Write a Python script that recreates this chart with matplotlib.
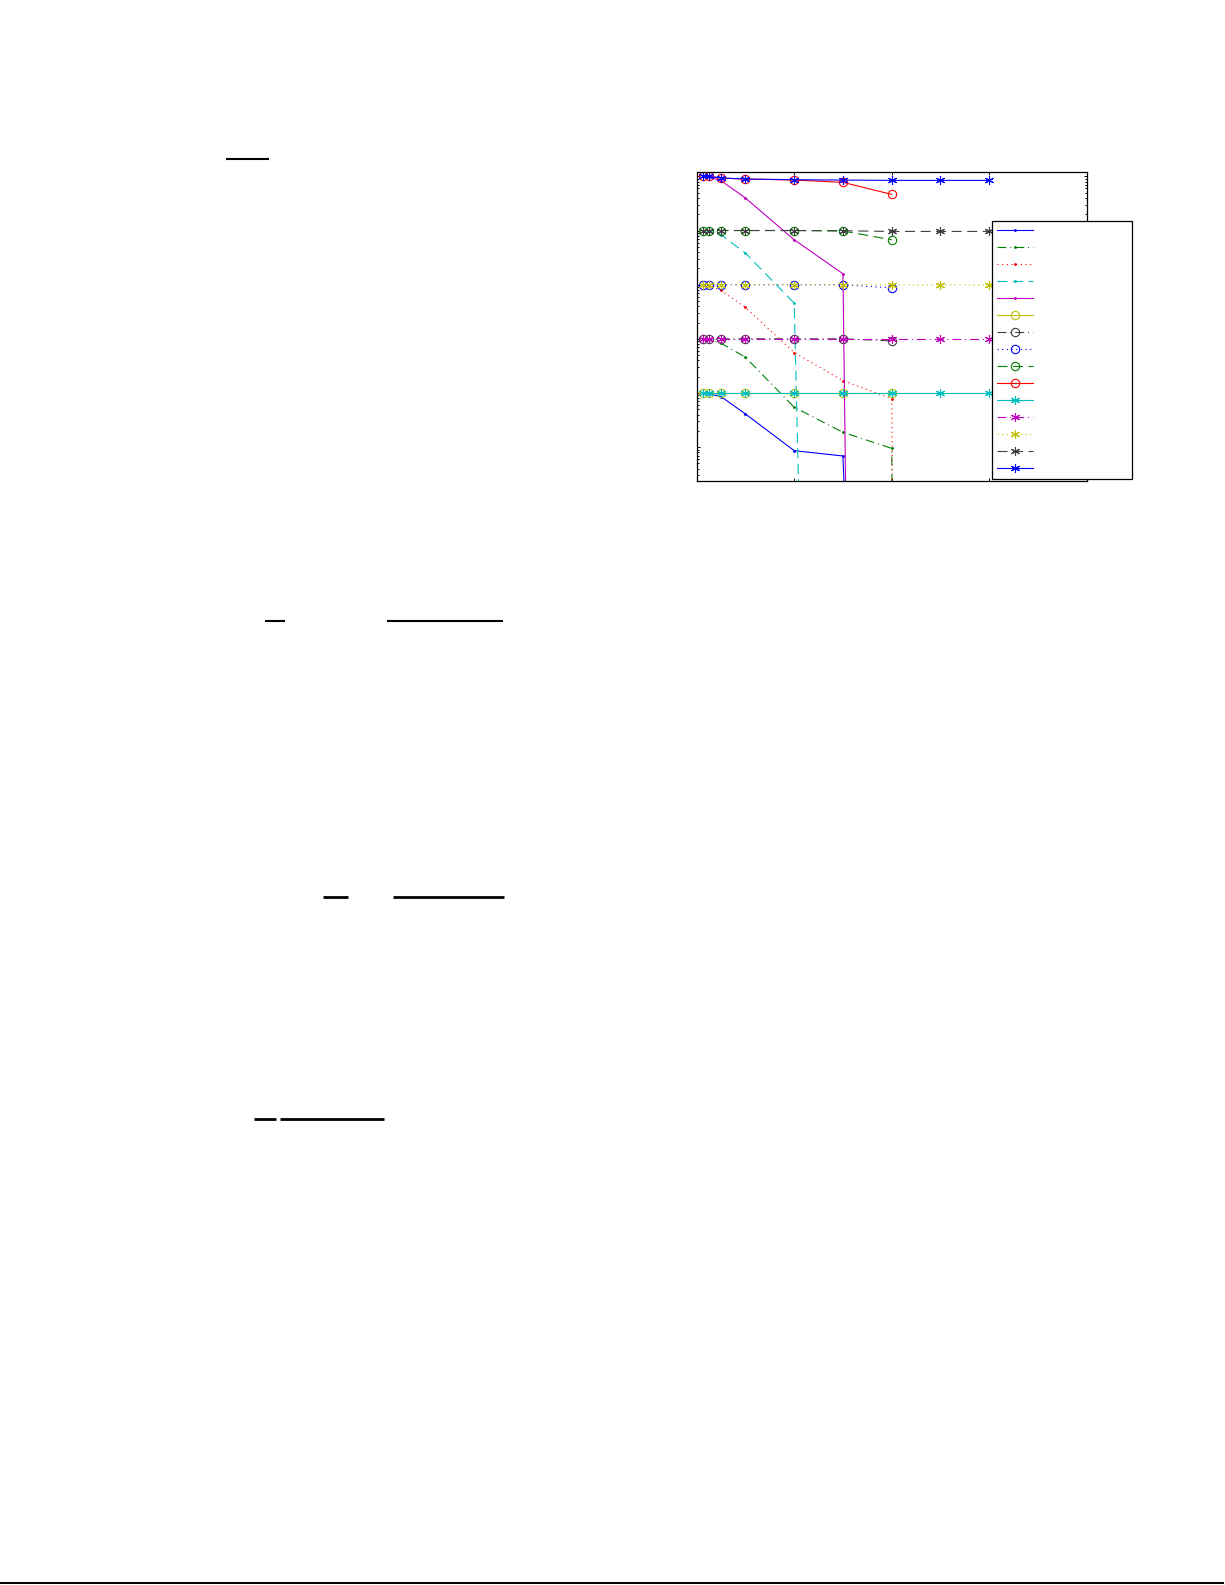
import numpy as np
import matplotlib
matplotlib.use("Agg")
import matplotlib.pyplot as plt
from matplotlib.lines import Line2D
from matplotlib.ticker import LogLocator, NullLocator, NullFormatter

# ---------------- data ----------------
x_vals = [1.155, 1.334, 1.778, 3.162, 10.0, 31.62, 100.0, 316.2, 1000.0]

# group 1 (lowest level)
s01_dot = [10.0, 9.62, 8.57, 4.10, 0.861, 0.687, 1e-23]
s06_circ = [10.0, 10.0, 10.0, 10.0, 10.0, 10.0, 10.0]
s11_star = [10.0, 10.0, 10.0, 10.0, 10.0, 10.0, 10.0, 10.0, 10.0]
# group 2
s02_dot = [100.0, 95.7, 83.0, 45.7, 5.45, 1.88, 0.95, 1e-111]
s07_circ = [100.0, 100.0, 100.0, 100.0, 100.0, 100.0, 91.6]
s12_star = [100.0, 100.0, 100.0, 100.0, 100.0, 100.0, 100.0, 100.0, 100.0]
# group 3
s03_dot = [1000.0, 953.0, 782.0, 379.0, 55.8, 16.9, 7.89, 1e-111]
s08_circ = [1000.0, 1000.0, 1000.0, 1000.0, 1000.0, 1000.0, 875.0]
s13_star = [1000.0, 1000.0, 1000.0, 1000.0, 1000.0, 1000.0, 990.0, 990.0, 990.0]
# group 4
s04_dot = [1.0e4, 9.9e3, 8.36e3, 3.83e3, 456.0, 1e-35]
s09_circ = [1.0e4, 1.0e4, 1.0e4, 1.0e4, 1.0e4, 9.8e3, 6.75e3]
s14_star = [1.0e4, 1.0e4, 1.0e4, 1.0e4, 1.0e4, 9.9e3, 9.62e3, 9.62e3, 9.62e3]
# group 5 (top level)
s05_dot = [1.0e5, 9.73e4, 8.32e4, 3.98e4, 6.75e3, 1.59e3, 1e-68]
s10_circ = [1.0e5, 1.0e5, 9.31e4, 8.93e4, 8.55e4, 7.75e4, 4.65e4]
s15_star = [1.0e5, 1.0e5, 9.31e4, 8.93e4, 8.67e4, 8.55e4, 8.43e4, 8.43e4, 8.43e4]

series = [s01_dot, s02_dot, s03_dot, s04_dot, s05_dot,
          s06_circ, s07_circ, s08_circ, s09_circ, s10_circ,
          s11_star, s12_star, s13_star, s14_star, s15_star]

# ---------------- styles ----------------
C = {'b': (0, 0, 1), 'g': (0, 0.5, 0), 'r': (1, 0, 0), 'c': (0, 0.75, 0.75),
     'm': (0.75, 0, 0.75), 'y': (0.75, 0.75, 0), 'k': (0.25, 0.25, 0.25)}
colors = ['b', 'g', 'r', 'c', 'm', 'y', 'k', 'b', 'g', 'r', 'c', 'm', 'y', 'k', 'b']
DASH = {'-': (None, None), '--': (0, (9, 5)), ':': (0, (1, 3.2)), '-.': (0, (8, 3.5, 1, 3.5))}
styles = ['-', '-.', ':', '--', '-', '-', '-.', ':', '--', '-', '-', '-.', ':', '--', '-']
ast = (6, 2, 0)
markers = ['.'] * 5 + ['o'] * 5 + [ast] * 5
msizes = [2.5] * 5 + [6] * 5 + [6.5] * 5

W, H = 1225, 1585
fig = plt.figure(figsize=(W / 100, H / 100), dpi=100)

def fx(px):
    return px / W

def fy(py):
    return 1 - py / H

ax_l, ax_r, ax_t, ax_b = 696.7, 1086.7, 172.3, 481.0
ax = fig.add_axes([fx(ax_l), fy(ax_b), fx(ax_r) - fx(ax_l), fy(ax_t) - fy(ax_b)])

handles = []
for i, ys in enumerate(series):
    st = styles[i]
    ls = '-' if st == '-' else DASH[st]
    (h,) = ax.plot(x_vals[:len(ys)], ys, linestyle=ls, color=C[colors[i]],
                   marker=markers[i], markersize=msizes[i], markerfacecolor='none'
                   if markers[i] == 'o' else C[colors[i]],
                   markeredgecolor=C[colors[i]], linewidth=0.8, markeredgewidth=0.8)
    handles.append(h)

ax.set_xscale('log')
ax.set_yscale('log')
ax.set_xlim(1, 1e4)
ax.set_ylim(10 ** -0.625, 10 ** 5.075)
ax.xaxis.set_major_locator(LogLocator(base=10, numticks=20))
ax.xaxis.set_minor_locator(NullLocator())
ax.yaxis.set_major_locator(LogLocator(base=10, numticks=20))
ax.yaxis.set_minor_locator(LogLocator(base=10, subs=np.arange(2, 10), numticks=100))
ax.xaxis.set_major_formatter(NullFormatter())
ax.yaxis.set_major_formatter(NullFormatter())
ax.yaxis.set_minor_formatter(NullFormatter())
ax.tick_params(which='both', direction='in', top=True, right=True,
               labelbottom=False, labelleft=False, width=0.7, color='black')
ax.tick_params(which='major', length=2.4)
ax.tick_params(which='minor', length=1.3)
for sp in ax.spines.values():
    sp.set_linewidth(0.9)

# legend (entries without text)
lx0, lx1, lyt, lyb = 992.3, 1132.0, 221.3, 477.7
leg = fig.legend(handles, [' '] * 15, loc='upper left',
                 bbox_to_anchor=(fx(lx0), fy(lyb), fx(lx1) - fx(lx0), fy(lyt) - fy(lyb)),
                 bbox_transform=fig.transFigure, mode='expand', ncol=1,
                 fontsize=8, handlelength=3.25, borderpad=0.45, labelspacing=0.63,
                 numpoints=1, frameon=True, fancybox=False, framealpha=1,
                 borderaxespad=0)
leg.get_frame().set_edgecolor('black')
leg.get_frame().set_linewidth(0.9)

# page rules (fraction bars and bottom line)
rules = [((226, 269), 159, 1.5), ((265, 285), 621, 1.5), ((387, 503), 621, 1.5),
         ((323, 347.7), 897.3, 2.0), ((393, 504), 897.3, 2.0),
         ((254, 276), 1119, 2.0), ((280, 384), 1119, 2.0),
         ((0, 1224), 1582.5, 1.4)]
for (xa, xb), yy, lw in rules:
    fig.add_artist(Line2D([fx(xa), fx(xb)], [fy(yy), fy(yy)], color='black',
                          linewidth=lw, solid_capstyle='butt',
                          transform=fig.transFigure))

fig.savefig('out.png', dpi=100)
